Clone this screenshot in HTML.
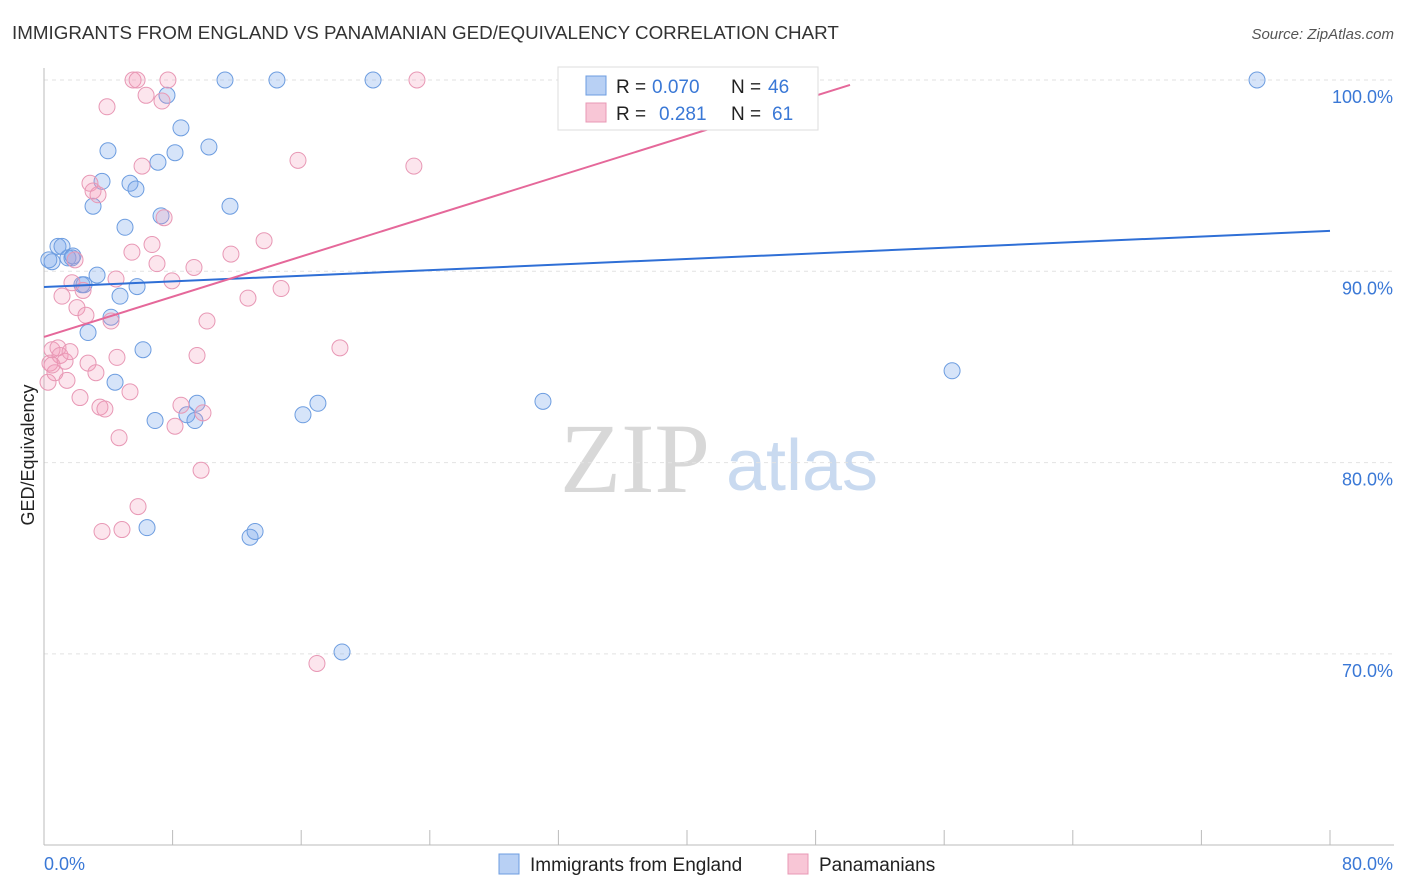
<!DOCTYPE html>
<html><head><meta charset="utf-8"><style>
body{margin:0;background:#fff;font-family:"Liberation Sans",sans-serif;}
svg{display:block}
</style></head><body>
<svg id="chart" width="1406" height="892" viewBox="0 0 1406 892" xmlns="http://www.w3.org/2000/svg">
<text x="12" y="39" font-size="18.8" fill="#333">IMMIGRANTS FROM ENGLAND VS PANAMANIAN GED/EQUIVALENCY CORRELATION CHART</text>
<text x="1394" y="39" font-size="15" fill="#555" font-style="italic" text-anchor="end">Source: ZipAtlas.com</text>
<text transform="translate(34,455) rotate(-90)" font-size="18" fill="#222" text-anchor="middle">GED/Equivalency</text>
<g>
<text x="635" y="492" font-size="100" fill="#d8d8d8" font-family="Liberation Serif,serif" text-anchor="middle">ZIP</text>
<text x="802" y="490" font-size="72" fill="#c9daf0" text-anchor="middle">atlas</text>
</g>
<g id="grid"></g>
<g id="axes"></g>
<g id="marks"></g>
<g id="legend">
<rect x="558" y="67" width="260" height="63" fill="#fff" stroke="#ddd"/>
<rect x="586" y="76" width="20" height="19" fill="#b8d0f4" stroke="#6d9de0"/>
<text x="616" y="93" font-size="19" fill="#222">R =</text>
<text x="652" y="93" font-size="19" fill="#3a78d6">0.070</text>
<text x="731" y="93" font-size="19" fill="#222">N =</text>
<text x="768" y="93" font-size="19" fill="#3a78d6">46</text>
<rect x="586" y="103" width="20" height="19" fill="#f8c6d6" stroke="#e898b5"/>
<text x="616" y="120" font-size="19" fill="#222">R =</text>
<text x="659" y="120" font-size="19" fill="#3a78d6">0.281</text>
<text x="731" y="120" font-size="19" fill="#222">N =</text>
<text x="772" y="120" font-size="19" fill="#3a78d6">61</text>
</g>
<g>
<rect x="499" y="854" width="20" height="20" fill="#b8d0f4" stroke="#6d9de0"/>
<text x="530" y="871" font-size="19" fill="#222">Immigrants from England</text>
<rect x="788" y="854" width="20" height="20" fill="#f8c6d6" stroke="#e898b5"/>
<text x="819" y="871" font-size="19" fill="#222">Panamanians</text>
</g>
</svg>
<script>
const yTicks=[100,90,80,70];
const yTickLabels=["100.0%","90.0%","80.0%","70.0%"];
const xLabels=["0.0%","80.0%"];
const blueX=[0.5,0.87,1.12,1.49,1.74,2.36,2.74,3.05,3.3,3.61,3.98,4.17,4.42,4.73,5.04,5.35,5.72,5.79,6.16,6.41,6.91,7.09,7.28,7.65,8.15,8.52,8.89,9.39,9.52,10.26,11.26,11.57,12.82,13.13,14.49,16.11,17.04,18.54,20.47,31.04,33.03,56.49,75.46,1.8,0.3,2.49];
const blueY=[90.5,91.3,91.3,90.7,90.7,89.3,86.8,93.4,89.8,94.7,96.3,87.6,84.2,88.7,92.3,94.6,94.3,89.2,85.9,76.6,82.2,95.7,92.9,99.2,96.2,97.5,82.5,82.2,83.1,96.5,100,93.4,76.1,76.4,100,82.5,83.1,70.1,100,83.2,100,84.8,100,90.8,90.6,89.3];
const pinkX=[0.25,0.37,0.5,0.68,0.87,1.0,1.12,1.31,1.43,1.62,1.74,1.93,2.05,2.24,2.43,2.61,2.74,2.86,3.05,3.23,3.36,3.48,3.61,3.79,3.92,4.17,4.48,4.54,4.67,4.85,5.35,5.47,5.54,5.79,5.85,6.1,6.35,6.72,7.03,7.34,7.47,7.71,7.96,8.15,8.52,9.33,9.52,9.77,9.89,10.14,11.63,12.69,13.69,14.75,15.8,16.98,18.41,23.01,23.2,41.93,0.5];
const pinkY=[84.2,85.2,85.9,84.7,86.0,85.6,88.7,85.3,84.3,85.8,89.4,90.6,88.1,83.4,89.0,87.7,85.2,94.6,94.2,84.7,94.0,82.9,76.4,82.8,98.6,87.4,89.6,85.5,81.3,76.5,83.7,91.0,100,100,77.7,95.5,99.2,91.4,90.4,98.9,92.8,100,89.5,81.9,83.0,90.2,85.6,79.6,82.6,87.4,90.9,88.6,91.6,89.1,95.8,69.5,86.0,95.5,100,100,85.1];
const blueTrend=[[0,89.18],[80,92.11]];
const pinkTrend=[[0,86.57],[50.14,99.74]];
const NS="http://www.w3.org/2000/svg";
const X0=44,X1=1330,Y100=80,PXPER=19.13;
function sx(v){return X0+(v/80)*(X1-X0);}
function sy(v){return Y100+(100-v)*PXPER;}
function mk(tag,attrs,parent){const e=document.createElementNS(NS,tag);for(const k in attrs)e.setAttribute(k,attrs[k]);parent.appendChild(e);return e;}
const grid=document.getElementById('grid'),axes=document.getElementById('axes'),marks=document.getElementById('marks');
yTicks.forEach((t,i)=>{
 const l=mk('line',{x1:X0,x2:1394,y1:sy(t),y2:sy(t),stroke:'#e2e2e2','stroke-dasharray':'4,4'},grid);
 
 
 const tx=mk('text',{x:1393,y:sy(t)+23,'font-size':18,fill:'#3a78d6','text-anchor':'end'},axes);
 tx.textContent=yTickLabels[i];
 
 
});
const ax=mk('line',{x1:X0,x2:X0,y1:68,y2:845,stroke:'#bbb'},axes);


const bx=mk('line',{x1:X0,x2:1394,y1:845,y2:845,stroke:'#bbb'},axes);


for(let i=0;i<=10;i++){
 const t=mk('line',{x1:sx(i*8),x2:sx(i*8),y1:830,y2:845,stroke:'#bbb'},axes);
 
 
}
const xl0=mk('text',{x:44,y:870,'font-size':18,fill:'#3a78d6'},axes);xl0.textContent=xLabels[0];


const xl1=mk('text',{x:1393,y:870,'font-size':18,fill:'#3a78d6','text-anchor':'end'},axes);xl1.textContent=xLabels[1];


function pts(xs,ys,fill,stroke,name){xs.forEach((x,i)=>{const c=mk('circle',{cx:sx(x),cy:sy(ys[i]),r:8,fill:fill,stroke:stroke,'stroke-width':1},marks);
 
 });}
pts(blueX,blueY,'rgba(120,165,235,0.3)','#6d9de0','england-point');
pts(pinkX,pinkY,'rgba(242,150,185,0.25)','#e898b5','panamanian-point');
const bl=mk('line',{x1:sx(blueTrend[0][0]),y1:sy(blueTrend[0][1]),x2:sx(blueTrend[1][0]),y2:sy(blueTrend[1][1]),stroke:'#2f6fd6','stroke-width':2},marks);


const pl=mk('line',{x1:sx(pinkTrend[0][0]),y1:sy(pinkTrend[0][1]),x2:sx(pinkTrend[1][0]),y2:sy(pinkTrend[1][1]),stroke:'#e5689a','stroke-width':2},marks);


</script>
</body></html>
